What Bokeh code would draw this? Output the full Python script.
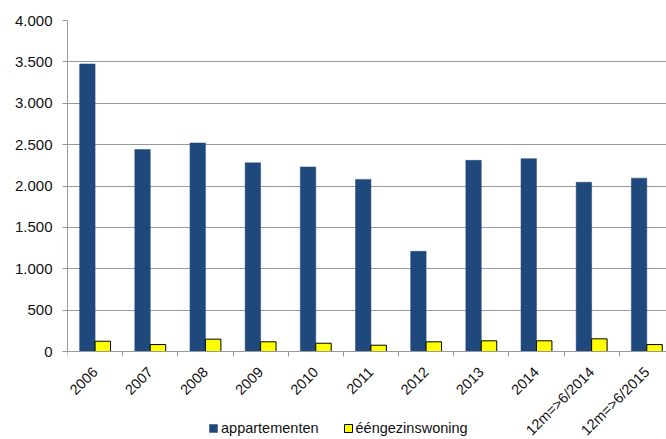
import math
from bokeh.plotting import figure
from bokeh.models import (ColumnDataSource, FixedTicker, CustomJSTickFormatter,
                          Legend, LegendItem, Range1d)
from bokeh.embed import file_html
from bokeh.resources import INLINE

# Data
categories = ["2006", "2007", "2008", "2009", "2010", "2011", "2012",
              "2013", "2014", "12m=>6/2014", "12m=>6/2015"]
appartementen = [3475, 2440, 2520, 2280, 2230, 2080, 1210, 2310, 2330, 2045, 2095]
eengezinswoning = [124, 84, 149, 117, 100, 76, 117, 129, 129, 153, 84]
y_ticks = [0, 500, 1000, 1500, 2000, 2500, 3000, 3500, 4000]

BLUE = "#1F497D"
YELLOW = "#FFFF00"
GRID = "#999999"
FONT = "Liberation Sans"

n = len(categories)
centers = [i + 0.5 for i in range(n)]
bar_w = 0.28

src = ColumnDataSource(dict(
    x_app=[c - bar_w / 2 for c in centers],
    x_een=[c + bar_w / 2 for c in centers],
    app=appartementen,
    een=eengezinswoning,
))

# The frame runs to the bottom edge so the legend can sit under the axis;
# the x axis is pinned at y = 0.
y_top = 4000
px_per_unit = 331.0 / y_top
y_bottom = -(439 - 20 - 331) / px_per_unit

p = figure(width=666, height=439, output_backend="svg", toolbar_location=None,
           x_range=Range1d(0, 10.857), y_range=Range1d(y_bottom, y_top))
p.min_border_left = 67
p.min_border_right = 0
p.min_border_top = 20
p.min_border_bottom = 0
p.outline_line_color = None
p.background_fill_color = "white"
p.border_fill_color = "white"

r_app = p.vbar(x="x_app", top="app", width=bar_w, source=src,
               fill_color=BLUE, line_color=BLUE, line_width=0.5)
r_een = p.vbar(x="x_een", top="een", width=bar_w, source=src,
               fill_color=YELLOW, line_color="black", line_width=1)

# x axis: labels at category centres, ticks at category boundaries
xa = p.xaxis[0]
xa.fixed_location = 0
xa.ticker = FixedTicker(ticks=centers, minor_ticks=list(range(n + 1)))
xa.major_label_overrides = {c: lab for c, lab in zip(centers, categories)}
xa.major_label_orientation = math.pi / 4
xa.major_tick_out = 0
xa.major_tick_in = 0
xa.minor_tick_out = 5
xa.minor_tick_in = 0
xa.minor_tick_line_color = GRID
xa.axis_line_color = GRID
xa.major_label_text_font = FONT
xa.major_label_text_font_size = "14.5px"
xa.major_label_text_color = "#111111"
xa.major_label_standoff = 13

ya = p.yaxis[0]
ya.bounds = (0, y_top)
ya.ticker = FixedTicker(ticks=y_ticks)
ya.formatter = CustomJSTickFormatter(
    code="return Math.round(tick).toString().replace(/\\B(?=(\\d{3})+(?!\\d))/g, '.');")
ya.major_tick_out = 5
ya.major_tick_in = 0
ya.minor_tick_out = 0
ya.minor_tick_in = 0
ya.major_tick_line_color = GRID
ya.axis_line_color = GRID
ya.major_label_text_font = FONT
ya.major_label_text_font_size = "15px"
ya.major_label_text_color = "#111111"
ya.major_label_standoff = 10

p.xgrid.grid_line_color = None
p.ygrid.grid_line_color = GRID
p.ygrid.grid_line_width = 1

legend = Legend(items=[LegendItem(label="appartementen", renderers=[r_app]),
                       LegendItem(label="ééngezinswoning", renderers=[r_een])],
                location=(141, 3), orientation="horizontal",
                glyph_width=10, glyph_height=10, label_standoff=3, spacing=24,
                padding=0, margin=0, border_line_color=None,
                background_fill_alpha=0, label_height=10,
                label_text_font=FONT, label_text_font_size="14.5px",
                label_text_color="#111111")
p.add_layout(legend)

open("out.html", "w").write(file_html(p, INLINE))
